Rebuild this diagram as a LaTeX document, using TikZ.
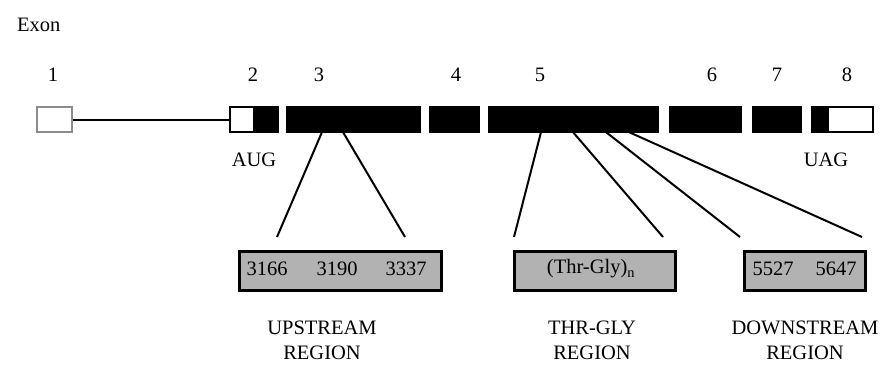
\documentclass[tikz,border=0pt]{standalone}
\usepackage{fontspec}
\setmainfont{Liberation Serif}
\usepackage{tikz}
\usetikzlibrary{calc}

\begin{document}
\begin{tikzpicture}[x=1pt,y=-1pt,line width=2pt]
\tikzstyle{txt}=[font=\fontsize{20.5}{25}\selectfont,inner sep=0pt,align=center]
\tikzstyle{cds}=[rectangle,fill=black,draw=black,line width=0.6pt,inner sep=0pt,anchor=north west,minimum height=26pt]
\tikzstyle{utr}=[rectangle,fill=white,draw=black,line width=2pt,inner sep=0pt,anchor=north west,minimum height=25pt]
\tikzstyle{seqbox}=[rectangle,fill=black!30,draw=black,line width=2.5pt,inner sep=0pt,anchor=north west,minimum height=39pt]
\useasboundingbox (0,0) rectangle (881,365);
% exons
\node[utr,draw=black!45,minimum width=35pt] (ex1) at (35.5,106) {};
\node[cds,minimum width=26pt] (ex2c) at (252,105.5) {};
\node[utr,minimum width=24pt] (ex2) at (229,106) {};
\node[cds,minimum width=134pt] (ex3) at (286,105.5) {};
\node[cds,minimum width=50pt] (ex4) at (429,105.5) {};
\node[cds,minimum width=170pt] (ex5) at (488,105.5) {};
\node[cds,minimum width=72pt] (ex6) at (669,105.5) {};
\node[cds,minimum width=49pt] (ex7) at (752,105.5) {};
\node[cds,minimum width=17pt] (ex8c) at (811,105.5) {};
\node[utr,minimum width=45pt] (ex8) at (827,106) {};
\draw (ex1.east) -- (ex2.west);
% labels
\node[txt,anchor=west] (exon) at (16,25) {Exon};
\foreach \n/\x in {1/53,2/253,3/319,4/456,5/540,6/712,7/777,8/847}
  \node[txt] (num\n) at (\x,75) {\n};
\node[txt] (aug) at (254,160) {AUG};
\node[txt] (uag) at (826,160) {UAG};
% sequenced regions
\node[seqbox,minimum width=202pt] (up) at (238,250) {};
\node[seqbox,minimum width=161pt] (tg) at (513,250) {};
\node[seqbox,minimum width=121pt] (down) at (743,250) {};
\node[txt] (s3166) at (267,269) {3166};
\node[txt] (s3190) at (337,269) {3190};
\node[txt] (s3337) at (406,269) {3337};
\node[txt] (thrgly) at (591,269) {(Thr-Gly)\textsubscript{n}};
\node[txt] (s5527) at (773,269) {5527};
\node[txt] (s5647) at (836,269) {5647};
\node[txt] (uplbl) at (322,340) {UPSTREAM\\REGION};
\node[txt] (tglbl) at (592,340) {THR-GLY\\REGION};
\node[txt] (downlbl) at (805,340) {DOWNSTREAM\\REGION};
% connectors
\coordinate (u1) at (277,237);
\coordinate (u2) at (405,237);
\coordinate (t1) at (514,237);
\coordinate (t2) at (663,237);
\coordinate (d1) at (740,237);
\coordinate (d2) at (862,237);
\draw ([xshift=36pt]ex3.south west) -- (u1);
\draw ([xshift=57pt]ex3.south west) -- (u2);
\draw ([xshift=53pt]ex5.south west) -- (t1);
\draw ([xshift=85pt]ex5.south west) -- (t2);
\draw ([xshift=118pt]ex5.south west) -- (d1);
\draw ([xshift=141pt]ex5.south west) -- (d2);
\end{tikzpicture}
\end{document}
